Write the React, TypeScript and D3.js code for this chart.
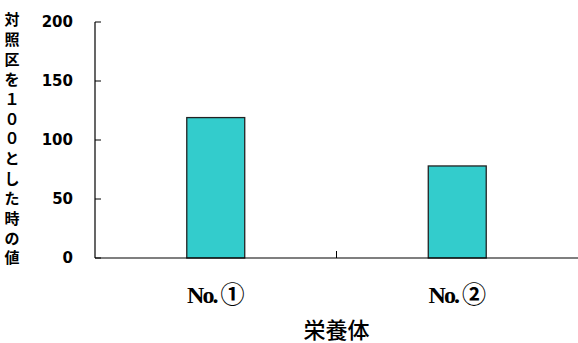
import React from "react";
import * as d3 from "d3";

// Relative values (control plot = 100) for each vegetative propagule
const categories = ["No.①", "No.②"];
const values = [119, 78];
const yTicks = [0, 50, 100, 150, 200];
const yTitle = "対照区を１００とした時の値";
const xTitle = "栄養体";

const W = 578;
const H = 343;
const left = 95;
const right = 578;
const top = 22;
const bottom = 258;

export default function App() {
  const x = d3.scaleBand<string>().domain(categories).range([left, right]).paddingInner(0).paddingOuter(0);
  const y = d3.scaleLinear().domain([0, 200]).range([bottom, top]);
  const barW = x.bandwidth() * 0.24;

  const titleChars = Array.from(yTitle);
  const charStep = (bottom - 20) / (titleChars.length - 1);

  return (
    <svg width={W} height={H} style={{ position: "absolute", left: 0, top: 0, background: "#fff" }}>
      {/* bars */}
      {categories.map((c, i) => {
        const cx = (x(c) as number) + x.bandwidth() / 2;
        return (
          <rect
            key={c}
            x={cx - barW / 2}
            y={y(values[i])}
            width={barW}
            height={y(0) - y(values[i])}
            fill="#33CCCC"
            stroke="#222"
            strokeWidth={1.3}
          />
        );
      })}

      {/* y axis */}
      <line x1={left} x2={left} y1={top} y2={bottom} stroke="#000" strokeWidth={1.2} />
      {yTicks.map((t) => (
        <g key={t}>
          <line x1={left} x2={left + 6} y1={y(t)} y2={y(t)} stroke="#000" strokeWidth={1} />
          <text
            x={73}
            y={y(t)}
            dy="0.36em"
            textAnchor="end"
            fontFamily="'DejaVu Sans', sans-serif"
            fontWeight="bold"
            fontSize={15}
            fill="#000"
          >
            {t}
          </text>
        </g>
      ))}

      {/* x axis */}
      <line x1={left} x2={right} y1={bottom} y2={bottom} stroke="#000" strokeWidth={1.2} />
      {categories.slice(1).map((c) => (
        <line key={c} x1={x(c)} x2={x(c)} y1={bottom} y2={bottom - 7} stroke="#000" strokeWidth={1} />
      ))}
      {categories.map((c) => {
        const chars = Array.from(c);
        const prefix = chars.slice(0, -1).join("");
        const mark = chars[chars.length - 1];
        return (
          <text
            key={c}
            x={(x(c) as number) + x.bandwidth() / 2}
            y={303}
            textAnchor="middle"
            fill="#000"
          >
            <tspan
              fontFamily="'Liberation Serif', serif"
              fontWeight="bold"
              fontSize={24}
              letterSpacing={-2}
            >
              {prefix}
            </tspan>
            <tspan dx={4} fontFamily="'Noto Sans CJK JP', sans-serif" fontWeight="bold" fontSize={24}>
              {mark}
            </tspan>
          </text>
        );
      })}

      {/* axis titles */}
      <text
        x={(left + right) / 2}
        y={338}
        textAnchor="middle"
        fontFamily="'Noto Sans CJK JP', sans-serif"
        fontWeight={500}
        fontSize={22}
        fill="#000"
      >
        {xTitle}
      </text>
      {titleChars.map((ch, i) => (
        <text
          key={i}
          x={12}
          y={20 + i * charStep}
          dy="0.36em"
          textAnchor="middle"
          fontFamily="'Noto Sans CJK JP', sans-serif"
          fontWeight="bold"
          fontSize={15}
          fill="#000"
        >
          {ch}
        </text>
      ))}
    </svg>
  );
}
